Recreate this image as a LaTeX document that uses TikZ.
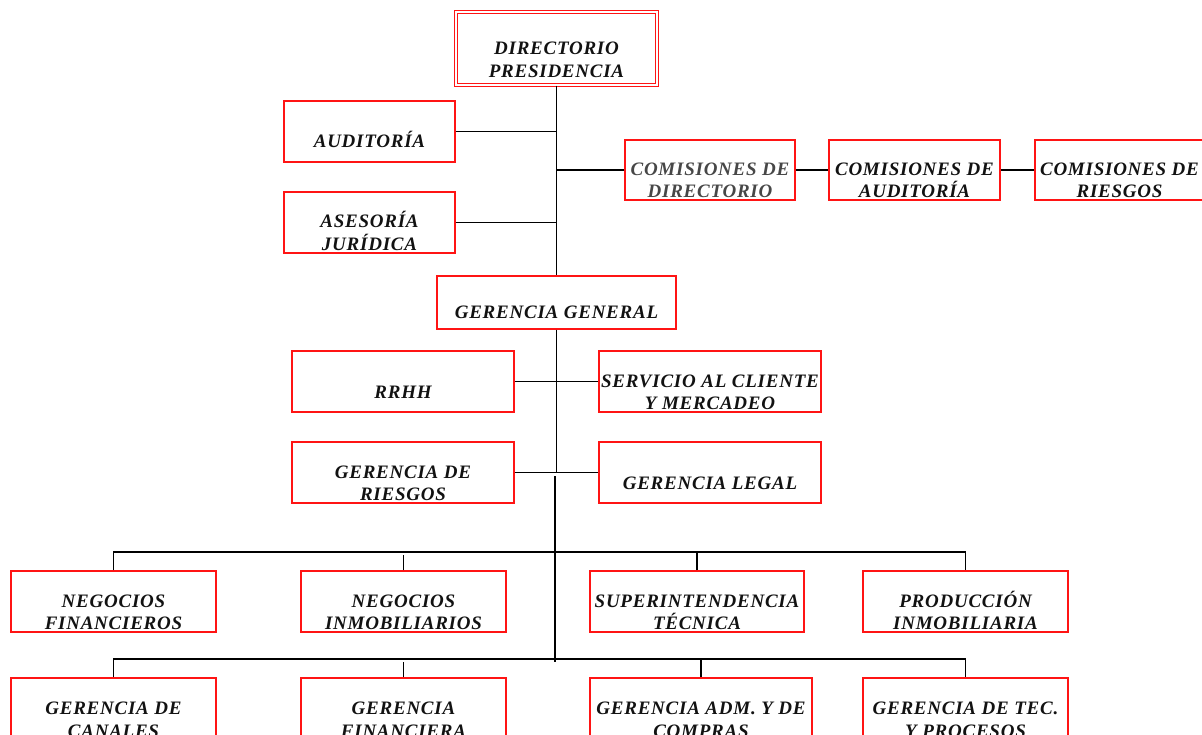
\documentclass[tikz,border=0pt]{standalone}
\usepackage{fontspec}
\setmainfont{Liberation Serif}
\usepackage{xcolor}
\usepackage{tikz}
\usetikzlibrary{positioning, calc}
\definecolor{boxred}{RGB}{255,20,20}
\definecolor{ink}{RGB}{18,18,18}

\begin{document}
\begin{tikzpicture}[
    x=1pt, y=-1pt,
    unit/.style={rectangle, draw=boxred, line width=1.4pt, inner sep=1pt, align=center, text=ink,
        text height=33pt, text depth=0pt,
        font=\fontsize{19}{22.5}\selectfont\bfseries\itshape\addfontfeature{LetterSpace=4}},
    tall/.style={text height=56pt},
    top/.style={unit, tall, double=white, double distance=2.2pt, line width=1.3pt},
    link/.style={line width=1.3pt, black}
]
\useasboundingbox (0,0) rectangle (1202,735);

\node[top, minimum width=201pt, minimum height=73pt, text height=58pt] (dir) at (556.5,48.5) {DIRECTORIO\\PRESIDENCIA};
\node[unit, minimum width=171pt, minimum height=61pt] (aud) at (369.5,131.5) {AUDITORÍA};
\node[unit, tall, minimum width=171pt, minimum height=61pt] (ase) at (369.5,222.5) {ASESORÍA\\JURÍDICA};
\node[unit, tall, minimum width=170pt, minimum height=60pt, text=black!72] (comdir) at (710,170) {COMISIONES DE\\DIRECTORIO};
\node[unit, tall, minimum width=171pt, minimum height=60pt] (comaud) at (914.5,170) {COMISIONES DE\\AUDITORÍA};
\node[unit, tall, minimum width=169pt, minimum height=60pt] (comrie) at (1119.5,170) {COMISIONES DE\\RIESGOS};

\node[unit, minimum width=239pt, minimum height=53pt] (gg) at (556.5,302.5) {GERENCIA GENERAL};
\node[unit, minimum width=222pt, minimum height=61pt] (rrhh) at (403,381.5) {RRHH};
\node[unit, tall, minimum width=222pt, minimum height=61pt] (serv) at (710,381.5) {SERVICIO AL CLIENTE\\Y MERCADEO};
\node[unit, tall, minimum width=222pt, minimum height=61pt] (grie) at (403,472.5) {GERENCIA DE\\RIESGOS};
\node[unit, minimum width=222pt, minimum height=61pt] (glegal) at (710,472.5) {GERENCIA LEGAL};

\node[unit, tall, minimum width=205pt, minimum height=61pt] (negfin) at (113.5,601.5) {NEGOCIOS\\FINANCIEROS};
\node[unit, tall, minimum width=205pt, minimum height=61pt] (neginm) at (403.5,601.5) {NEGOCIOS\\INMOBILIARIOS};
\node[unit, tall, minimum width=214pt, minimum height=61pt] (suptec) at (697,601.5) {SUPERINTENDENCIA\\TÉCNICA};
\node[unit, tall, minimum width=205pt, minimum height=61pt] (prodinm) at (965.5,601.5) {PRODUCCIÓN\\INMOBILIARIA};

\node[unit, tall, minimum width=205pt, minimum height=62pt] (gcan) at (113.5,709) {GERENCIA DE\\CANALES};
\node[unit, tall, minimum width=205pt, minimum height=62pt] (gfin) at (403.5,709) {GERENCIA\\FINANCIERA};
\node[unit, tall, minimum width=222pt, minimum height=62pt] (gadm) at (701,709) {GERENCIA ADM. Y DE\\COMPRAS};
\node[unit, tall, minimum width=205pt, minimum height=62pt] (gtec) at (965.5,709) {GERENCIA DE TEC.\\Y PROCESOS};

\coordinate (trunk) at (555,476);
\coordinate (trunkend) at (555,662);
\coordinate (bus1) at (555,552);
\coordinate (bus2) at (555,659);

\draw[link] (dir) -- (gg);
\draw[link] (aud) -- (aud -| dir);
\draw[link] (ase) -- (ase -| dir);
\draw[link] (comdir) -- (comdir -| dir);
\draw[link] (comdir) -- (comaud);
\draw[link] (comaud) -- (comrie);

\draw[link] (gg) -- (gg |- glegal);
\draw[link] (rrhh) -- (serv);
\draw[link] (grie) -- (glegal);
\draw[link] (trunk) -- (trunkend);

\draw[link] (negfin) -- (negfin |- bus1) -- (prodinm |- bus1) -- (prodinm);
\draw[link] (neginm.north) -- ++(0,-15);
\draw[link] (suptec) -- (suptec |- bus1);

\draw[link] (gcan) -- (gcan |- bus2) -- (gtec |- bus2) -- (gtec);
\draw[link] (gfin.north) -- ++(0,-15);
\draw[link] (gadm) -- (gadm |- bus2);
\end{tikzpicture}
\end{document}
